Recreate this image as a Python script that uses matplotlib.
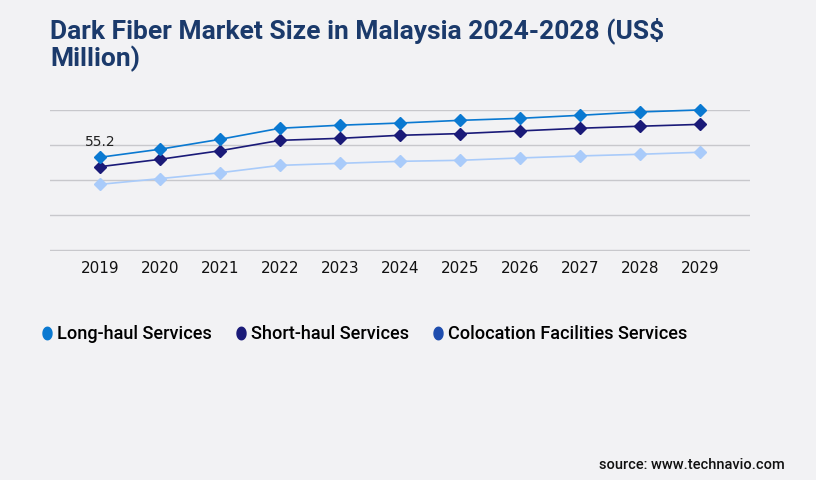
import matplotlib
matplotlib.use("Agg")
import matplotlib.pyplot as plt
from matplotlib.lines import Line2D
from matplotlib.path import Path
import numpy as np

# ── data (US$ million) ─────────────────────────────────
years = [2019, 2020, 2021, 2022, 2023, 2024, 2025, 2026, 2027, 2028, 2029]
long_haul = [55.2, 60.0, 65.9, 72.5, 74.3, 75.6, 77.2, 78.4, 80.2, 82.2, 83.4]
short_haul = [49.6, 54.0, 59.1, 65.3, 66.5, 68.3, 69.3, 70.9, 72.5, 73.7, 74.8]
colocation = [39.1, 42.5, 46.0, 50.4, 51.6, 52.8, 53.4, 54.8, 56.0, 57.0, 58.2]
series_names = ["Long-haul Services", "Short-haul Services",
                "Colocation Facilities Services"]

# ── styles ─────────────────────────────────────────────
BG = "#F2F2F4"
C_LONG = "#0A79D1"
C_SHORT = "#1A1A78"
C_COLO = "#A9CBFA"
C_COLO_LEG = "#1E4DAE"
C_TITLE = "#1B3A6B"
C_GRID = "#C8C8CC"

W, H = 816, 480
fig = plt.figure(figsize=(W / 100, H / 100), dpi=100)
fig.patch.set_facecolor(BG)

# axes: x 50..750 px, y 110..250 px
ax = fig.add_axes([50 / W, 1 - 251 / H, 700 / W, 141 / H])
ax.set_facecolor(BG)

for vals, c in [(colocation, C_COLO), (short_haul, C_SHORT), (long_haul, C_LONG)]:
    ax.plot(years, vals, color=c, lw=1.2, marker="D", ms=6.5,
            mec=c, mfc=c, clip_on=False, zorder=3)

ax.annotate(f"{long_haul[0]}", (years[0], long_haul[0]), xytext=(0, 6),
            textcoords="offset points", ha="center", va="bottom",
            fontsize=10, color="#222222", family="DejaVu Sans")

ymax = 83.36
step = ymax / 4
ax.set_ylim(-step * 1 / 35, ymax)
ax.set_yticks(np.linspace(0, ymax, 5))
ax.set_xlim(years[0] - 50 / 60, years[-1] + 50 / 60)
ax.set_xticks(years)
ax.set_xticklabels([str(y) for y in years], fontsize=11, color="#111111",
                   family="DejaVu Sans")
ax.tick_params(axis="x", length=0, pad=7)
ax.tick_params(axis="y", length=0, labelleft=False)
ax.grid(axis="y", color=C_GRID, lw=1)
ax.set_axisbelow(True)
for s in ax.spines.values():
    s.set_visible(False)

# title
fig.text(50 / W, 1 - 31 / H, "Dark Fiber Market Size in Malaysia 2024-2028 (US$",
         fontsize=19, fontweight="bold", color=C_TITLE, family="Roboto",
         ha="left", va="center")
fig.text(50 / W, 1 - 59 / H, "Million)",
         fontsize=19, fontweight="bold", color=C_TITLE, family="Roboto",
         ha="left", va="center")

# legend (tall ellipse markers)
t = np.linspace(0, 2 * np.pi, 40)
ellipse = Path(np.column_stack([0.72 * np.cos(t), np.sin(t)]))
handles = [Line2D([], [], ls="none", marker=ellipse, ms=9, color=c)
           for c in [C_LONG, C_SHORT, C_COLO_LEG]]
fig.legend(handles, series_names, loc="center left",
           bbox_to_anchor=(22 / W, 1 - 334 / H), ncol=3, frameon=False,
           prop=dict(family="Roboto", size=13.1, weight="medium"),
           handletextpad=0.05, columnspacing=1.1, handlelength=1.0)

# source
fig.text(785 / W, 1 - 465 / H, "source: www.technavio.com", fontsize=10.5,
         fontweight="medium", family="Roboto", color="#111111",
         ha="right", va="center")

plt.savefig("out.png", dpi=100, facecolor=BG)
